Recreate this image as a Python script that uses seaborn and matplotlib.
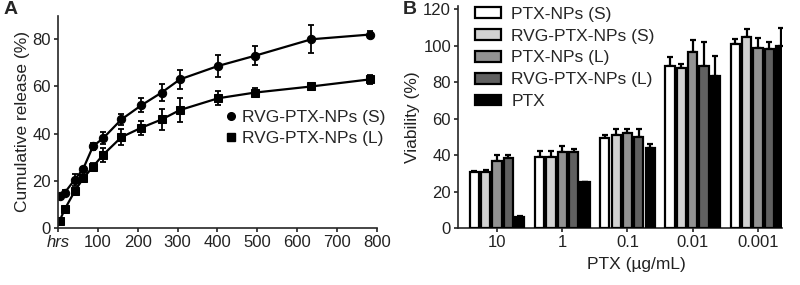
import pandas as pd
import seaborn as sns
import matplotlib.pyplot as plt
from matplotlib.lines import Line2D
import numpy as np

# Panel A: cumulative release
release_time = [4, 17, 42, 63, 88, 113, 159, 209, 260, 306, 402, 494, 636, 783]
release_s = [13.5, 15, 20.5, 25, 34.7, 38, 46, 52, 57.4, 63, 68.7, 73, 80, 82]
release_s_err = [1, 1, 2.5, 1, 1.5, 2.5, 2.5, 3, 3.5, 4, 4.5, 4, 6, 1.5]
release_l = [3, 8, 15.6, 21, 26, 31, 38.5, 42.5, 46, 50, 55, 57.4, 60, 63]
release_l_err = [1, 1, 1.5, 1, 1.5, 3, 3.5, 3, 4.5, 5, 3, 2, 1.5, 2]
release_labels = ["RVG-PTX-NPs (S)", "RVG-PTX-NPs (L)"]

# Panel B: viability
concentrations = ["10", "1", "0.1", "0.01", "0.001"]
groups = ["PTX-NPs (S)", "RVG-PTX-NPs (S)", "PTX-NPs (L)", "RVG-PTX-NPs (L)", "PTX"]
group_colors = ["#ffffff", "#d2d2d2", "#929292", "#606060", "#000000"]
viability = {
    "PTX-NPs (S)":     [30.5, 39, 49.5, 89, 101],
    "RVG-PTX-NPs (S)": [30.5, 39, 51, 88, 105],
    "PTX-NPs (L)":     [37, 41.5, 52, 96.5, 99],
    "RVG-PTX-NPs (L)": [38.5, 41.5, 50, 89, 98],
    "PTX":             [6, 25, 44, 83.5, 100],
}
viability_err = {
    "PTX-NPs (S)":     [1, 3, 1.5, 5, 2.5],
    "RVG-PTX-NPs (S)": [1.5, 3.5, 3.5, 2, 4],
    "PTX-NPs (L)":     [3, 3.5, 2.5, 6.5, 5],
    "RVG-PTX-NPs (L)": [1.5, 2, 4.5, 13, 4],
    "PTX":             [0.5, 0.5, 2, 11, 10],
}

sns.set_style("ticks")
plt.rcParams['font.family'] = ['Liberation Sans', 'DejaVu Sans']
plt.rcParams['axes.linewidth'] = 1.2

TXT = "#222222"
FS = 12.5

fig = plt.figure(figsize=(8, 2.85), dpi=100)
ax_a = fig.add_axes([0.0725, 0.2, 0.3985, 0.745])
ax_b = fig.add_axes([0.5725, 0.2, 0.405, 0.78])

# ---- Panel A
df_rel = pd.DataFrame({"time": release_time, "S": release_s, "L": release_l})
sns.lineplot(data=df_rel, x="time", y="S", ax=ax_a, color="black", lw=1.6,
             marker="o", markersize=6, markeredgecolor="black")
sns.lineplot(data=df_rel, x="time", y="L", ax=ax_a, color="black", lw=1.6,
             marker="s", markersize=6, markeredgecolor="black")
ax_a.errorbar(release_time, release_s, yerr=release_s_err, fmt="none", ecolor="black",
              elinewidth=1.3, capsize=2.5, capthick=1.3)
ax_a.errorbar(release_time, release_l, yerr=release_l_err, fmt="none", ecolor="black",
              elinewidth=1.3, capsize=2.5, capthick=1.3)
ax_a.set_xlim(0, 800)
ax_a.set_ylim(0, 90)
ax_a.set_xticks(range(0, 801, 100))
ax_a.set_xticklabels(["hrs"] + [str(v) for v in range(100, 801, 100)])
ax_a.get_xticklabels()[0].set_style("italic")
ax_a.set_yticks([0, 20, 40, 60, 80])
ax_a.set_xlabel("")
ax_a.set_ylabel("Cumulative release (%)", fontsize=FS, color=TXT, labelpad=2)
ax_a.tick_params(labelsize=12, length=3, width=1.2, colors=TXT, pad=2)
leg_handles = [Line2D([], [], ls="none", marker="o", color="black", markersize=5.5),
               Line2D([], [], ls="none", marker="s", color="black", markersize=5.5)]
ax_a.legend(leg_handles, release_labels, loc="center left", bbox_to_anchor=(0.5, 0.47),
            frameon=False, fontsize=FS, handlelength=0.6, handletextpad=0.3,
            labelspacing=0.35, borderpad=0)
sns.despine(ax=ax_a)

# ---- Panel B
rows = []
for g in groups:
    for c, v in zip(concentrations, viability[g]):
        rows.append({"conc": c, "group": g, "value": v})
df_via = pd.DataFrame(rows)
sns.barplot(data=df_via, x="conc", y="value", hue="group", order=concentrations,
            hue_order=groups, palette=group_colors, width=0.87, gap=0.18,
            edgecolor="black", linewidth=1.6, ax=ax_b, zorder=3)
for cont, g in zip(ax_b.containers, groups):
    xs = [p.get_x() + p.get_width() / 2 for p in cont]
    ys = [p.get_height() for p in cont]
    err = viability_err[g]
    ax_b.errorbar(xs, ys, yerr=[np.zeros(len(err)), err], fmt="none", ecolor="black",
                  elinewidth=1.6, capsize=2.5, capthick=1.6, zorder=2)
ax_b.set_xlim(-0.6, 4.37)
ax_b.set_ylim(0, 122)
ax_b.set_yticks(range(0, 121, 20))
ax_b.set_xlabel("PTX (\u00b5g/mL)", fontsize=FS, color=TXT)
ax_b.xaxis.set_label_coords(0.55, -0.13)
ax_b.set_ylabel("Viability (%)", fontsize=FS, color=TXT, labelpad=2)
ax_b.tick_params(labelsize=12, length=3, width=1.2, colors=TXT, pad=2)
h, l = ax_b.get_legend_handles_labels()
ax_b.legend(h, l, loc="upper left", bbox_to_anchor=(0.025, 1.035), frameon=False,
            fontsize=FS, handlelength=1.5, handleheight=0.55, handletextpad=0.6,
            labelspacing=0.4, borderpad=0)
sns.despine(ax=ax_b)

fig.text(0.005, 0.995, "A", fontsize=14, fontweight="bold", va="top")
fig.text(0.503, 0.995, "B", fontsize=14, fontweight="bold", va="top")

fig.savefig("out.png", dpi=100)
